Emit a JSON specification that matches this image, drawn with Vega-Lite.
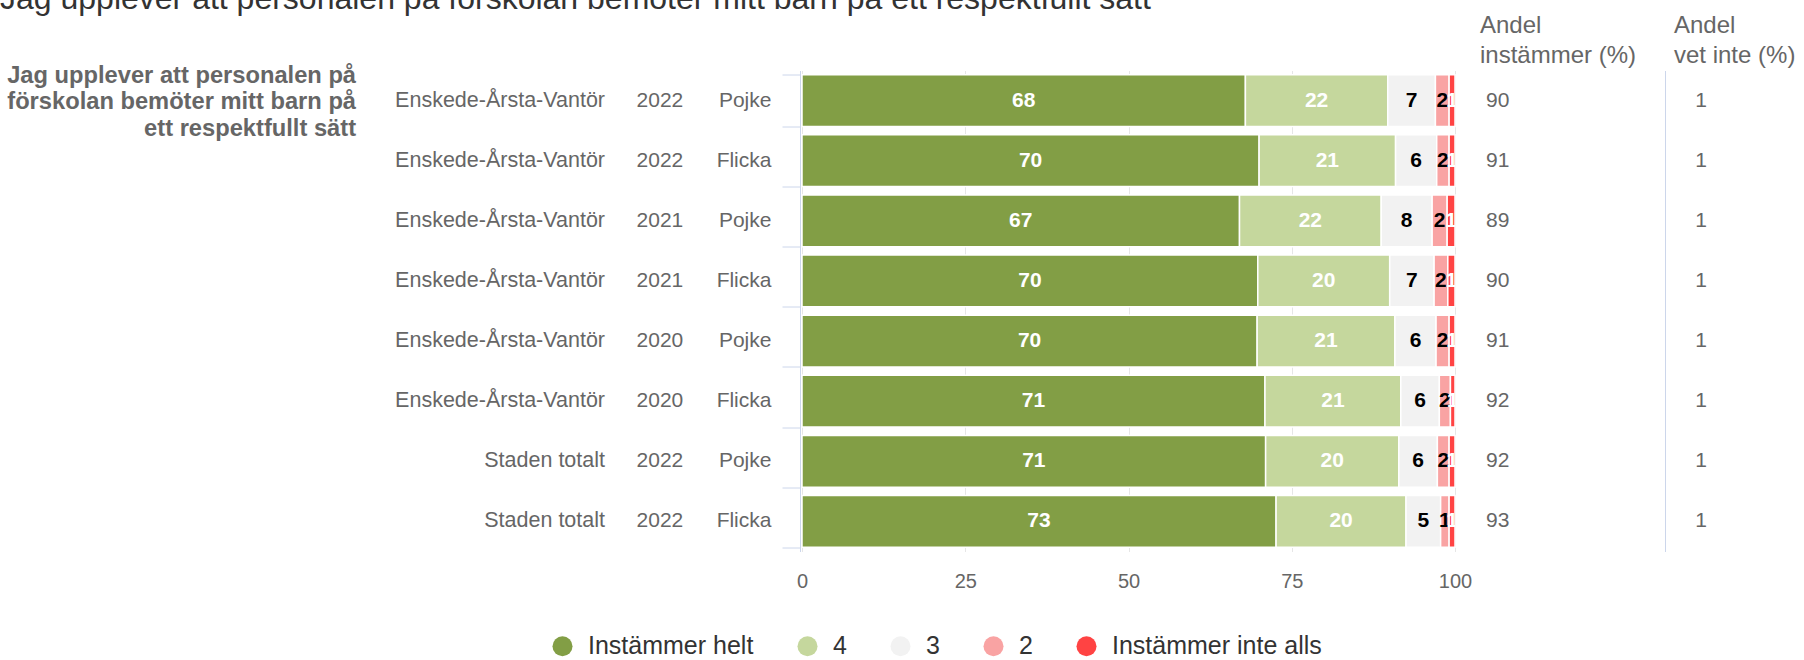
{
  "$schema": "https://vega.github.io/schema/vega-lite/v6.json",
  "autosize": {"type": "pad"},
  "padding": {"left": 0, "top": -17.5, "right": 0, "bottom": 0},
  "config": {"font": "Liberation Sans", "view": {"stroke": null}},
  "bounds": "flush",
  "spacing": 0,
  "title": {"text": "Jag upplever att personalen på förskolan bemöter mitt barn på ett respektfullt sätt", "anchor": "start", "frame": "group", "fontSize": 32, "fontWeight": "normal", "color": "#333333", "baseline": "alphabetic", "offset": -27.5},
  "datasets": {
    "q": [{"r": "1", "q": "Jag upplever att personalen på\nförskolan bemöter mitt barn på\nett respektfullt sätt"}],
    "rows": [
      {"r": "1", "region": "Enskede-Årsta-Vantör", "year": "2022", "gender": "Pojke", "inst": 90, "vet": 1},
      {"r": "2", "region": "Enskede-Årsta-Vantör", "year": "2022", "gender": "Flicka", "inst": 91, "vet": 1},
      {"r": "3", "region": "Enskede-Årsta-Vantör", "year": "2021", "gender": "Pojke", "inst": 89, "vet": 1},
      {"r": "4", "region": "Enskede-Årsta-Vantör", "year": "2021", "gender": "Flicka", "inst": 90, "vet": 1},
      {"r": "5", "region": "Enskede-Årsta-Vantör", "year": "2020", "gender": "Pojke", "inst": 91, "vet": 1},
      {"r": "6", "region": "Enskede-Årsta-Vantör", "year": "2020", "gender": "Flicka", "inst": 92, "vet": 1},
      {"r": "7", "region": "Staden totalt", "year": "2022", "gender": "Pojke", "inst": 92, "vet": 1},
      {"r": "8", "region": "Staden totalt", "year": "2022", "gender": "Flicka", "inst": 93, "vet": 1}
    ],
    "segs": [
      {"r": "1", "cat": "Instämmer helt", "o": 1, "v": 67.9},
      {"r": "1", "cat": "4", "o": 2, "v": 21.8},
      {"r": "1", "cat": "3", "o": 3, "v": 7.3},
      {"r": "1", "cat": "2", "o": 4, "v": 2.1},
      {"r": "1", "cat": "Instämmer inte alls", "o": 5, "v": 0.9},
      {"r": "2", "cat": "Instämmer helt", "o": 1, "v": 70.0},
      {"r": "2", "cat": "4", "o": 2, "v": 20.9},
      {"r": "2", "cat": "3", "o": 3, "v": 6.3},
      {"r": "2", "cat": "2", "o": 4, "v": 1.9},
      {"r": "2", "cat": "Instämmer inte alls", "o": 5, "v": 0.9},
      {"r": "3", "cat": "Instämmer helt", "o": 1, "v": 67.0},
      {"r": "3", "cat": "4", "o": 2, "v": 21.7},
      {"r": "3", "cat": "3", "o": 3, "v": 7.8},
      {"r": "3", "cat": "2", "o": 4, "v": 2.3},
      {"r": "3", "cat": "Instämmer inte alls", "o": 5, "v": 1.2},
      {"r": "4", "cat": "Instämmer helt", "o": 1, "v": 69.8},
      {"r": "4", "cat": "4", "o": 2, "v": 20.2},
      {"r": "4", "cat": "3", "o": 3, "v": 6.8},
      {"r": "4", "cat": "2", "o": 4, "v": 2.1},
      {"r": "4", "cat": "Instämmer inte alls", "o": 5, "v": 1.1},
      {"r": "5", "cat": "Instämmer helt", "o": 1, "v": 69.7},
      {"r": "5", "cat": "4", "o": 2, "v": 21.1},
      {"r": "5", "cat": "3", "o": 3, "v": 6.3},
      {"r": "5", "cat": "2", "o": 4, "v": 2.0},
      {"r": "5", "cat": "Instämmer inte alls", "o": 5, "v": 0.9},
      {"r": "6", "cat": "Instämmer helt", "o": 1, "v": 70.9},
      {"r": "6", "cat": "4", "o": 2, "v": 20.8},
      {"r": "6", "cat": "3", "o": 3, "v": 5.9},
      {"r": "6", "cat": "2", "o": 4, "v": 1.7},
      {"r": "6", "cat": "Instämmer inte alls", "o": 5, "v": 0.7},
      {"r": "7", "cat": "Instämmer helt", "o": 1, "v": 71.0},
      {"r": "7", "cat": "4", "o": 2, "v": 20.4},
      {"r": "7", "cat": "3", "o": 3, "v": 5.9},
      {"r": "7", "cat": "2", "o": 4, "v": 1.8},
      {"r": "7", "cat": "Instämmer inte alls", "o": 5, "v": 0.9},
      {"r": "8", "cat": "Instämmer helt", "o": 1, "v": 72.6},
      {"r": "8", "cat": "4", "o": 2, "v": 19.9},
      {"r": "8", "cat": "3", "o": 3, "v": 5.3},
      {"r": "8", "cat": "2", "o": 4, "v": 1.3},
      {"r": "8", "cat": "Instämmer inte alls", "o": 5, "v": 0.9}
    ]
  },
  "hconcat": [
    {
      "width": 360, "height": 481,
      "data": {"name": "q"},
      "mark": {"type": "text", "align": "right", "baseline": "middle", "fontSize": 23.7, "fontWeight": "bold", "color": "#666666", "lineBreak": "\n", "lineHeight": 26.5, "dy": -25},
      "encoding": {
        "y": {"field": "r", "type": "nominal", "axis": null, "scale": {"domain": ["1","2","3","4","5","6","7","8"], "paddingInner": 0.14, "paddingOuter": 0.07}},
        "x": {"datum": 0.989, "type": "quantitative", "axis": null, "scale": {"domain": [0, 1], "nice": false, "zero": false}},
        "text": {"field": "q", "type": "nominal"}
      }
    },
    {
      "width": 246, "height": 481,
      "data": {"name": "rows"},
      "mark": {"type": "text", "align": "right", "baseline": "middle", "fontSize": 21.5, "color": "#666666"},
      "encoding": {
        "y": {"field": "r", "type": "nominal", "axis": null, "scale": {"domain": ["1","2","3","4","5","6","7","8"], "paddingInner": 0.14, "paddingOuter": 0.07}},
        "x": {"datum": 0.996, "type": "quantitative", "axis": null, "scale": {"domain": [0, 1], "nice": false, "zero": false}},
        "text": {"field": "region", "type": "nominal"}
      }
    },
    {
      "width": 110, "height": 481,
      "data": {"name": "rows"},
      "mark": {"type": "text", "align": "center", "baseline": "middle", "fontSize": 21, "color": "#666666"},
      "encoding": {
        "y": {"field": "r", "type": "nominal", "axis": null, "scale": {"domain": ["1","2","3","4","5","6","7","8"], "paddingInner": 0.14, "paddingOuter": 0.07}},
        "x": {"datum": 0.49, "type": "quantitative", "axis": null, "scale": {"domain": [0, 1], "nice": false, "zero": false}},
        "text": {"field": "year", "type": "nominal"}
      }
    },
    {
      "width": 86, "height": 481,
      "data": {"name": "rows"},
      "mark": {"type": "text", "align": "right", "baseline": "middle", "fontSize": 21, "color": "#666666"},
      "encoding": {
        "y": {"field": "r", "type": "nominal", "axis": null, "scale": {"domain": ["1","2","3","4","5","6","7","8"], "paddingInner": 0.14, "paddingOuter": 0.07}},
        "x": {"datum": 0.645, "type": "quantitative", "axis": null, "scale": {"domain": [0, 1], "nice": false, "zero": false}},
        "text": {"field": "gender", "type": "nominal"}
      }
    },
    {
      "width": 653, "height": 481,
      "data": {"name": "segs"},
      "encoding": {
        "y": {"field": "r", "type": "nominal", "scale": {"domain": ["1","2","3","4","5","6","7","8"], "paddingInner": 0.14, "paddingOuter": 0.07},
              "axis": {"title": null, "labels": false, "ticks": true, "tickBand": "extent", "tickSize": 18, "tickColor": "#ccd6eb", "domainColor": "#ccd6eb", "offset": 2, "grid": false}},
        "order": {"field": "o", "type": "quantitative"}
      },
      "layer": [
        {
          "mark": {"type": "bar", "stroke": "#ffffff", "strokeWidth": 1.5},
          "encoding": {
            "x": {"field": "v", "type": "quantitative", "stack": "zero", "scale": {"domain": [0, 100], "nice": false},
                  "axis": {"title": null, "values": [0, 25, 50, 75, 100], "domain": false, "ticks": false, "tickSize": 0, "labelPadding": 20, "labelFontSize": 20, "labelColor": "#666666", "labelFlush": false, "grid": true, "gridColor": "#e6e6e6"}},
            "color": {"field": "cat", "type": "nominal",
                      "scale": {"domain": ["Instämmer helt", "4", "3", "2", "Instämmer inte alls"], "range": ["#829e45", "#c5d79d", "#f2f2f2", "#f9a3a3", "#ff4343"]},
                      "legend": {"title": null, "orient": "none", "legendX": 550, "legendY": 563, "direction": "horizontal", "columns": 5, "symbolType": "circle", "symbolSize": 400, "symbolStrokeWidth": 0, "labelFontSize": 25, "labelColor": "#333333", "labelOffset": 13, "columnPadding": 41, "padding": 0, "labelLimit": 400}}
          }
        },
        {
          "mark": {"type": "text", "fontSize": 21, "fontWeight": "bold", "align": "center", "baseline": "middle", "clip": true},
          "encoding": {
            "x": {"field": "v", "type": "quantitative", "stack": "zero", "bandPosition": 0.5},
            "detail": {"field": "cat", "type": "nominal"},
            "text": {"field": "v", "type": "quantitative", "format": ".0f"},
            "color": {"condition": {"test": "datum.cat === '3' || datum.cat === '2'", "value": "#000000"}, "value": "#ffffff"}
          }
        }
      ]
    },
    {
      "width": 210, "height": 481,
      "data": {"name": "rows"},
      "title": {"text": ["Andel", "instämmer (%)"], "anchor": "start", "frame": "group", "dx": 25, "fontSize": 24, "fontWeight": "normal", "color": "#666666", "lineHeight": 30, "baseline": "bottom", "offset": -21},
      "mark": {"type": "text", "align": "left", "baseline": "middle", "fontSize": 21, "color": "#666666"},
      "encoding": {
        "y": {"field": "r", "type": "nominal", "axis": null, "scale": {"domain": ["1","2","3","4","5","6","7","8"], "paddingInner": 0.14, "paddingOuter": 0.07}},
        "x": {"datum": 0.148, "type": "quantitative", "axis": null, "scale": {"domain": [0, 1], "nice": false, "zero": false}},
        "text": {"field": "inst", "type": "quantitative"}
      }
    },
    {
      "width": 139, "height": 481,
      "data": {"name": "rows"},
      "title": {"text": ["Andel", "vet inte (%)"], "anchor": "start", "frame": "group", "dx": 9, "fontSize": 24, "fontWeight": "normal", "color": "#666666", "lineHeight": 30, "baseline": "bottom", "offset": -21},
      "mark": {"type": "text", "align": "center", "baseline": "middle", "fontSize": 21, "color": "#666666"},
      "encoding": {
        "y": {"field": "r", "type": "nominal", "scale": {"domain": ["1","2","3","4","5","6","7","8"], "paddingInner": 0.14, "paddingOuter": 0.07},
              "axis": {"title": null, "labels": false, "ticks": false, "domain": true, "domainColor": "#ccd6eb", "grid": false}},
        "x": {"datum": 0.259, "type": "quantitative", "axis": null, "scale": {"domain": [0, 1], "nice": false, "zero": false}},
        "text": {"field": "vet", "type": "quantitative"}
      }
    }
  ]
}
